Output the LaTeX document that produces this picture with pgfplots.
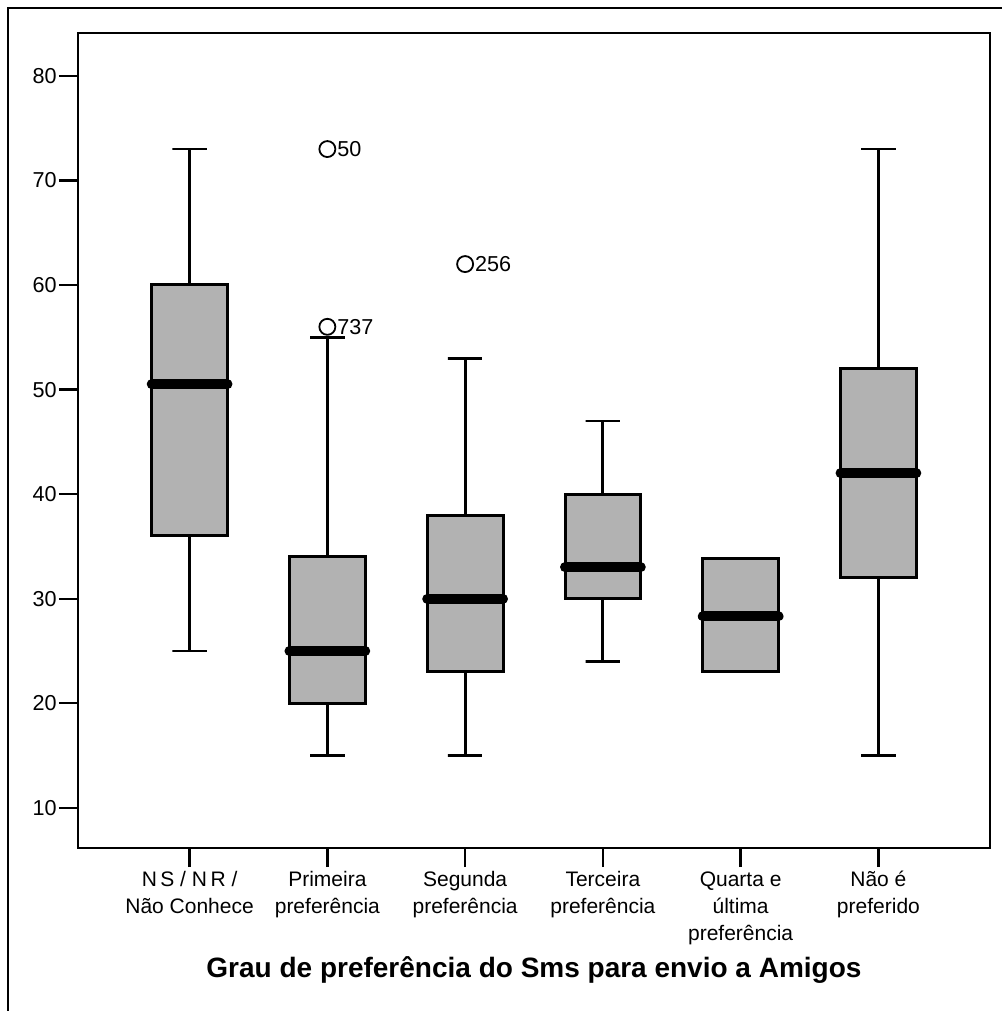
\documentclass[border=0pt]{standalone}
\usepackage{fontspec}
\setmainfont{Liberation Sans}
\usepackage{pgfplots}
\pgfplotsset{compat=1.18}
\begin{document}
\begin{tikzpicture}
\useasboundingbox (-39pt,-81.5pt) rectangle (462pt,424pt);
\draw[line width=0.8pt] (-35pt,-81.5pt) -- (-35pt,420pt) -- (462pt,420pt);
\begin{axis}[
  scale only axis,
  width=456pt, height=407.5pt,
  xmin=-0.81, xmax=5.81,
  ymin=6.16, ymax=84.1,
  axis line style={line width=1.2pt},
  tick align=outside,
  major tick length=9.5pt,
  major tick style={line width=1.2pt, black},
  xtick pos=bottom, ytick pos=left,
  ytick={10,20,30,40,50,60,70,80},
  xtick={0,1,2,3,4,5},
  xticklabels={{N\,S / N\,R /\\Não Conhece},{Primeira\\preferência},{Segunda\\preferência},{Terceira\\preferência},{Quarta e\\última\\preferência},{Não é\\preferido}},
  xticklabel style={align=center, inner sep=2pt, font=\fontsize{10.5}{13.5}\selectfont},
  yticklabel style={inner sep=1pt, font=\fontsize{10.8}{13}\selectfont},
  /pgf/number format/assume math mode=true,
  xlabel={Grau de preferência do Sms para envio a Amigos},
  xlabel style={at={(axis description cs:0.5,0)}, anchor=base, yshift=-64.5pt, font=\fontsize{14}{16}\selectfont\bfseries},
  whisk/.style={black, line width=1.4pt, mark=none},
  bx/.style={black, fill=gray!60, line width=1.5pt, mark=none},
  med/.style={black, line width=5pt, line cap=round, mark=none},
]
% Box 0: NS/NR/Nao Conhece  (lw 25, lq 36, med 50.5, uq 60, uw 73)
\addplot[whisk] coordinates {(0,60) (0,73) (-0.125,73) (0.125,73)};
\addplot[whisk] coordinates {(0,36) (0,25) (-0.125,25) (0.125,25)};
\addplot[bx] coordinates {(-0.275,36) (0.275,36) (0.275,60) (-0.275,60)} -- cycle;
\addplot[med] coordinates {(-0.275,50.5) (0.275,50.5)};
% Box 1: Primeira (lw 15, lq 20, med 25, uq 34, uw 55)
\addplot[whisk] coordinates {(1,34) (1,55) (0.875,55) (1.125,55)};
\addplot[whisk] coordinates {(1,20) (1,15) (0.875,15) (1.125,15)};
\addplot[bx] coordinates {(0.725,20) (1.275,20) (1.275,34) (0.725,34)} -- cycle;
\addplot[med] coordinates {(0.725,25) (1.275,25)};
% Box 2: Segunda (lw 15, lq 23, med 30, uq 38, uw 53)
\addplot[whisk] coordinates {(2,38) (2,53) (1.875,53) (2.125,53)};
\addplot[whisk] coordinates {(2,23) (2,15) (1.875,15) (2.125,15)};
\addplot[bx] coordinates {(1.725,23) (2.275,23) (2.275,38) (1.725,38)} -- cycle;
\addplot[med] coordinates {(1.725,30) (2.275,30)};
% Box 3: Terceira (lw 24, lq 30, med 33, uq 40, uw 47)
\addplot[whisk] coordinates {(3,40) (3,47) (2.875,47) (3.125,47)};
\addplot[whisk] coordinates {(3,30) (3,24) (2.875,24) (3.125,24)};
\addplot[bx] coordinates {(2.725,30) (3.275,30) (3.275,40) (2.725,40)} -- cycle;
\addplot[med] coordinates {(2.725,33) (3.275,33)};
% Box 4: Quarta e ultima (lq 23, med 28.3, uq 33.8; no whiskers)
\addplot[bx] coordinates {(3.725,23) (4.275,23) (4.275,33.8) (3.725,33.8)} -- cycle;
\addplot[med] coordinates {(3.725,28.3) (4.275,28.3)};
% Box 5: Nao e preferido (lw 15, lq 32, med 42, uq 52, uw 73)
\addplot[whisk] coordinates {(5,52) (5,73) (4.875,73) (5.125,73)};
\addplot[whisk] coordinates {(5,32) (5,15) (4.875,15) (5.125,15)};
\addplot[bx] coordinates {(4.725,32) (5.275,32) (5.275,52) (4.725,52)} -- cycle;
\addplot[med] coordinates {(4.725,42) (5.275,42)};
% Outliers
\addplot[only marks, mark=o, mark size=4pt, black, mark options={line width=0.9pt},
  nodes near coords, point meta=explicit symbolic,
  nodes near coords style={anchor=west, xshift=4pt, inner sep=0.5pt, font=\fontsize{10.8}{13}\selectfont}]
  coordinates {(1,73) [50] (1,56) [737] (2,62) [256]};
\end{axis}
\end{tikzpicture}
\end{document}
